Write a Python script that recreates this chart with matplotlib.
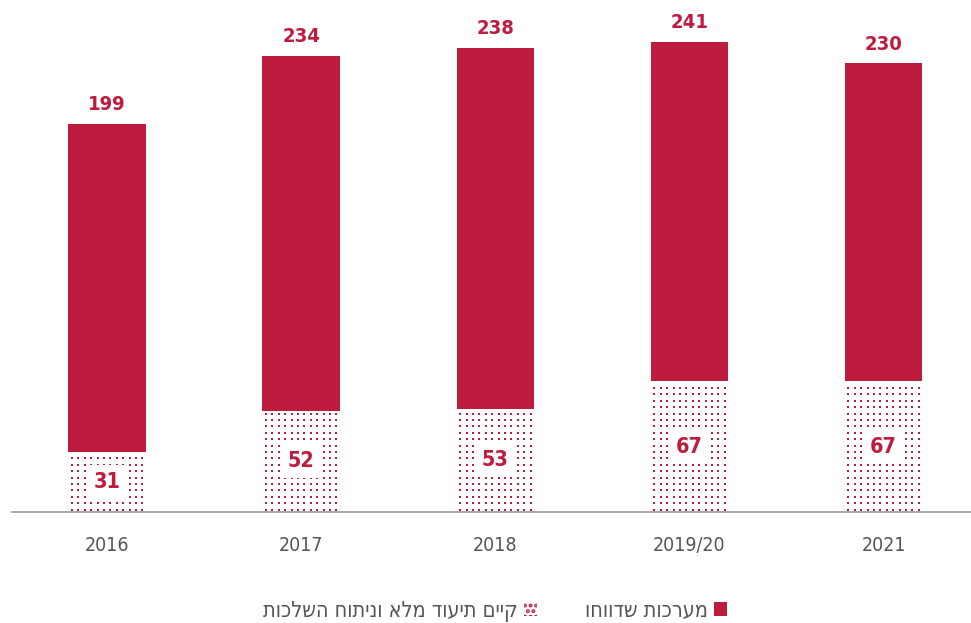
import numpy as np
import matplotlib
matplotlib.use("Agg")
from matplotlib import pyplot as plt
from matplotlib.patches import Patch

plt.rcParams['font.family'] = ['DejaVu Sans']
plt.rcParams['font.stretch'] = 'condensed'
plt.rcParams['hatch.linewidth'] = 2.0

years = ['2016', '2017', '2018', '2019/20', '2021']
reported = [199, 234, 238, 241, 230]
documented = [31, 52, 53, 67, 67]

label_reported = 'מערכות שדווחו'
label_documented = 'קיים תיעוד מלא וניתוח השלכות'

red = '#BD1C3F'
grey = '#555555'


def rtl(s):
    # matplotlib has no bidi support, so feed the glyphs in visual order
    return s[::-1]


W, H = 971, 623
fig = plt.figure(figsize=(W / 100, H / 100), dpi=100)
ax_box = [12 / W, 1 - 512 / H, 959 / W, 512 / H]
ax = fig.add_axes(ax_box)

xlim = (-0.49, 4.45)
ylim = (0, 262.5)
px_x = 959 / (xlim[1] - xlim[0])   # pixels per x unit
px_y = 512 / (ylim[1] - ylim[0])   # pixels per y unit

x = np.arange(len(years))
width = 0.40

ax.bar(x, reported, width=width, color=red, edgecolor='none', zorder=2)
ax.bar(x, documented, width=width, color='white', edgecolor='none', zorder=3)

# dotted fill: grid of small squares inside each lower bar
step = 6.4
bar_px = width * px_x
ncol = int(bar_px // step)
first = (bar_px - (ncol - 1) * step) / 2
for xi, v in zip(x, documented):
    left = xi - width / 2
    rows = np.arange(2.5, v * px_y - 1, step)
    cols = first + step * np.arange(ncol)
    gx, gy = np.meshgrid(left + cols / px_x, rows / px_y)
    ax.scatter(gx.ravel(), gy.ravel(), marker='s', s=4.4, color=red,
               linewidths=0, zorder=4)

for xi, v in zip(x, reported):
    ax.text(xi, v + 5, str(v), ha='center', va='bottom', color=red,
            fontsize=14.5, fontweight='bold')

for xi, v in zip(x, documented):
    ax.text(xi, v / 2, str(v), ha='center', va='center', color=red,
            fontsize=15.5, fontweight='bold', zorder=5,
            bbox=dict(boxstyle='square,pad=0.3', facecolor='white', edgecolor='none'))

ax.set_xlim(*xlim)
ax.set_ylim(*ylim)
for s in ['top', 'right', 'left']:
    ax.spines[s].set_visible(False)
ax.spines['bottom'].set_color('#999999')
ax.spines['bottom'].set_linewidth(1.2)
ax.spines['bottom'].set_zorder(6)
ax.set_yticks([])
ax.set_xticks(x)
ax.set_xticklabels(years, fontsize=14, color=grey)
ax.tick_params(axis='x', length=0, pad=17)

plt.rcParams['hatch.color'] = red
handles = [Patch(facecolor='white', edgecolor=red, linewidth=0, hatch='...'),
           Patch(facecolor=red, edgecolor='none')]
labels = [rtl(label_documented), rtl(label_reported)]
fig.legend(handles, labels, loc='center', bbox_to_anchor=(495 / W, 1 - 611 / H),
           ncol=2, frameon=False, markerfirst=False, fontsize=15.5,
           labelcolor=grey, handlelength=0.6, handleheight=0.6,
           handletextpad=0.3, columnspacing=2.2)

fig.savefig('out.png', dpi=100)
